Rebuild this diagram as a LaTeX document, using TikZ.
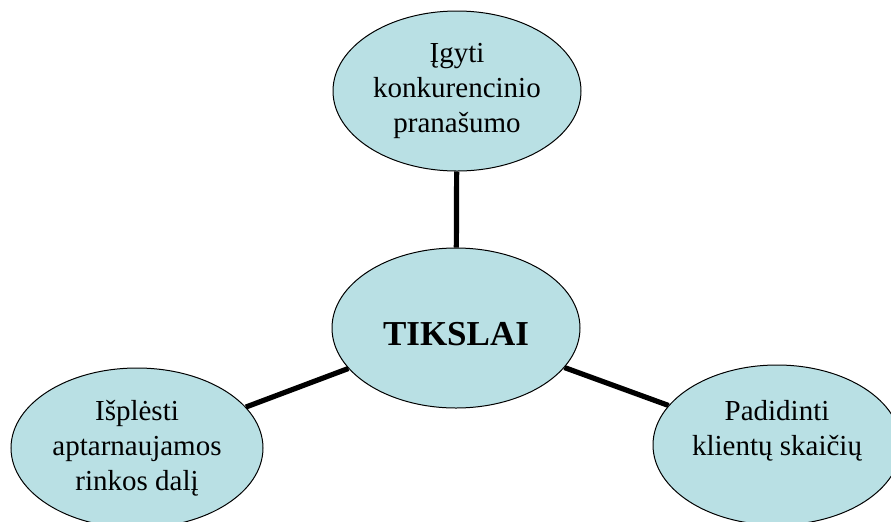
\documentclass[tikz,border=0pt]{standalone}
\usepackage{fontspec}
\setmainfont{Liberation Serif}
\usepackage{xcolor}
\usepackage{tikz}

\definecolor{goalfill}{HTML}{B9E0E4}

\tikzset{
	goal/.style={ellipse, draw=black, line width=0.5pt, fill=goalfill,
		minimum width=124pt, minimum height=80pt, inner sep=0pt, align=center,
		font=\fontsize{14.5}{17.5}\selectfont},
	link/.style={line width=2.6pt, black}
}
\usetikzlibrary{shapes.geometric}

\begin{document}
\begin{tikzpicture}[x=0.5pt, y=-0.5pt]
		\useasboundingbox (0,0) rectangle (891,521);

		% Goals
		\node[goal] (tikslai) at (456,328) {\raisebox{-3pt}[\height][0pt]{\fontsize{17.5}{20}\selectfont\bfseries TIKSLAI}};
		\node[goal] (igyti) at (457,91) {Įgyti\\konkurencinio\\pranašumo};
		\node[goal, minimum width=126pt] (isplesti) at (137,448) {Išplėsti\\aptarnaujamos\\rinkos dalį};
		\node[goal] (padidinti) at (777,445) {Padidinti\\klientų skaičių\\\mbox{}};

		% Links
		\draw[link] (tikslai) -- (igyti);
		\draw[link] (tikslai) -- (isplesti);
		\draw[link] (tikslai) -- (padidinti);
	\end{tikzpicture}
\end{document}
